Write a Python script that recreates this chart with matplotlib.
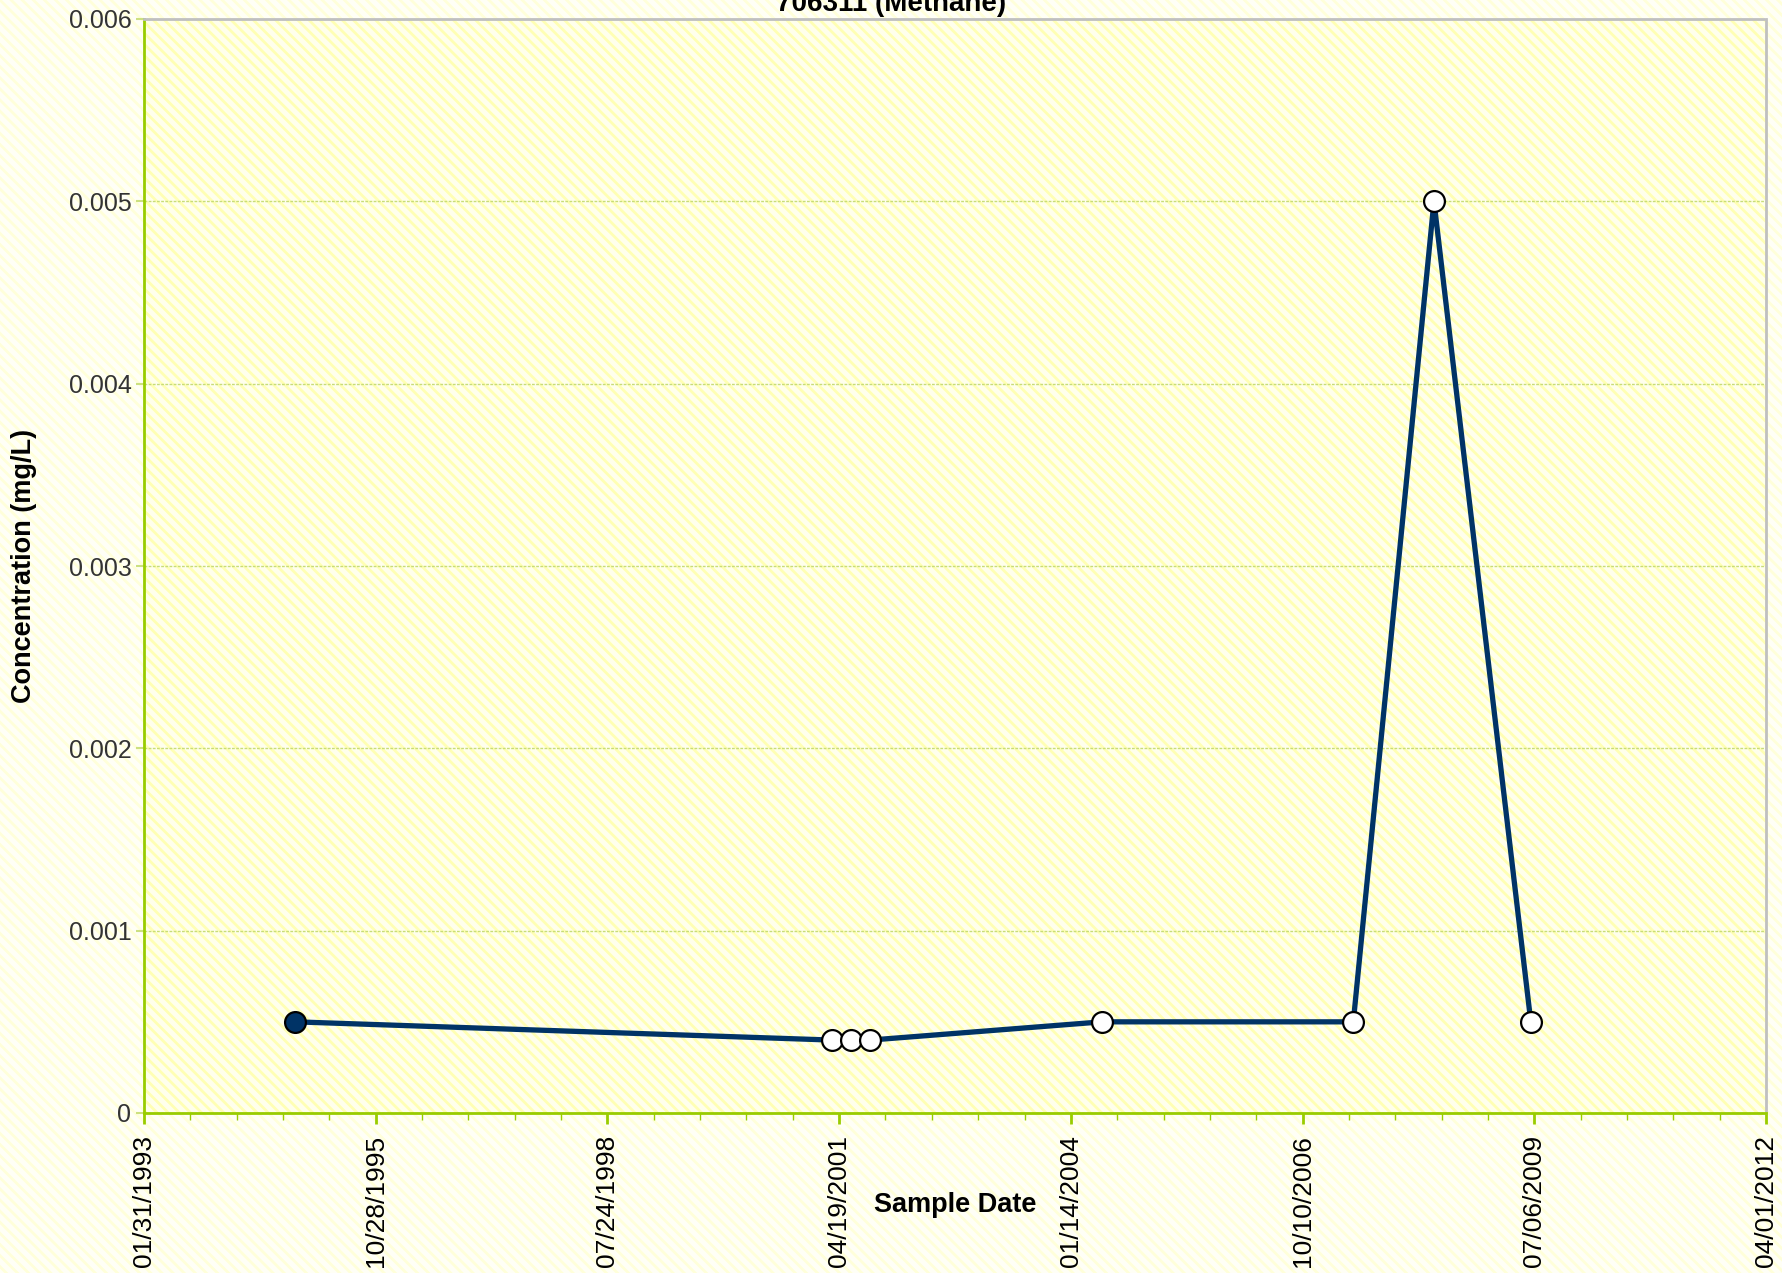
import matplotlib
matplotlib.use("Agg")
import matplotlib.pyplot as plt
from matplotlib.patches import Rectangle
import pandas as pd

# sample data
sample_dates = ["1994-11-14", "2001-03-18", "2001-06-09", "2001-08-31",
                "2004-05-28", "2007-05-17", "2008-04-29", "2009-06-21"]
concentration = [0.0005, 0.0004, 0.0004, 0.0004, 0.0005, 0.0005, 0.005, 0.0005]
detected = [True, False, False, False, False, False, False, False]

tick_dates = ["1993-01-31", "1995-10-28", "1998-07-24", "2001-04-19",
              "2004-01-14", "2006-10-10", "2009-07-06", "2012-04-01"]
y_ticks = [0, 0.001, 0.002, 0.003, 0.004, 0.005, 0.006]
y_labels = ["0", "0.001", "0.002", "0.003", "0.004", "0.005", "0.006"]

dates = pd.to_datetime(sample_dates)
ticks = pd.to_datetime(tick_dates)

plt.rcParams['font.family'] = ['Liberation Sans', 'DejaVu Sans']
plt.rcParams['hatch.linewidth'] = 2.0

fig = plt.figure(figsize=(17.82, 12.73), dpi=100)
fig.patch.set_facecolor('#FFFFF6')
# striped page background
bg = Rectangle((0, 0), 1, 1, transform=fig.transFigure, facecolor='#FFFFF6',
               edgecolor='#FFFFDA', hatch='\\\\\\', linewidth=0, zorder=-10)
fig.add_artist(bg)

ax = fig.add_axes([144 / 1782, 1 - 1113 / 1273, (1766 - 144) / 1782, (1113 - 19) / 1273])
ax.patch.set_facecolor('#FFFFEC')
ax.patch.set_edgecolor('#FFFFB4')
ax.patch.set_hatch('\\\\\\')
ax.patch.set_linewidth(0)

ax.plot(dates, concentration, color='#003366', linewidth=3.8, zorder=3)
for d, c, det in zip(dates, concentration, detected):
    ax.plot([d], [c], marker='o', markersize=15, markeredgewidth=1.6,
            markeredgecolor='black', markerfacecolor='#003366' if det else 'white',
            linestyle='none', zorder=4)

ax.set_xlim(ticks[0], ticks[-1])
ax.set_ylim(0, 0.006)
ax.set_xticks(ticks)
ax.set_xticklabels([t.strftime('%m/%d/%Y') for t in ticks], rotation=90,
                   fontsize=19, color='black')
minor = pd.date_range(ticks[0], ticks[-1], freq='200D')
ax.set_xticks(minor, minor=True)
ax.set_yticks(y_ticks)
ax.set_yticklabels(y_labels, fontsize=18, color='#333333')

ax.tick_params(axis='x', which='major', length=8, width=2, color='#99CC00', pad=8)
ax.tick_params(axis='x', which='minor', length=5, width=1, color='#99CC00')
ax.tick_params(axis='y', length=6, width=1.5, color='#CCE080', pad=3)

ax.grid(axis='y', color='#C8DC78', linestyle=(0, (2, 1)), linewidth=1)
ax.set_axisbelow(True)

for s in ['left', 'bottom']:
    ax.spines[s].set_color('#99CC00')
    ax.spines[s].set_linewidth(2)
for s in ['top', 'right']:
    ax.spines[s].set_color('#C0C0C0')
    ax.spines[s].set_linewidth(2)
    ax.spines[s].set_linestyle((0, (3, 1)))

ax.set_ylabel('Concentration (mg/L)', fontsize=19.5, fontweight='bold')
ax.yaxis.set_label_coords((37 - 144) / 1622, 0.5)
fig.text(955 / 1782, 1 - 1205 / 1273, 'Sample Date', fontsize=19.5,
         fontweight='bold', ha='center', va='center')
# title sits at the very top edge, as in the original chart
fig.text(0.5, 1 - 11 / 1273, '706311 (Methane)', fontsize=20,
         fontweight='bold', ha='center', va='baseline')

fig.savefig('out.png', dpi=100, facecolor=fig.get_facecolor())
